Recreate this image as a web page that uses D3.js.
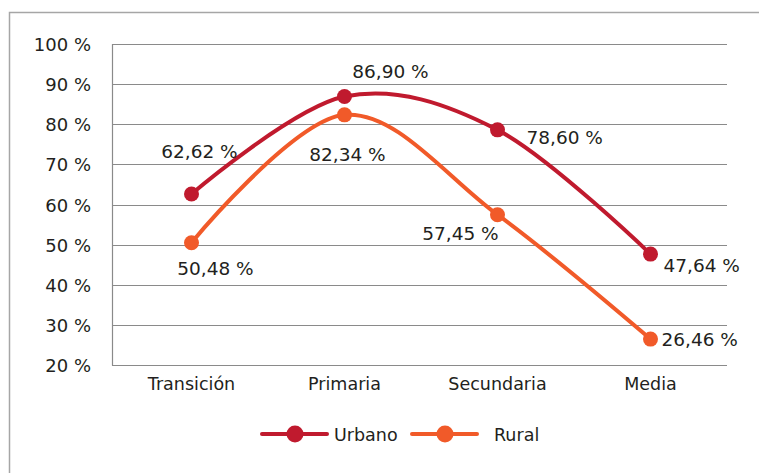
<!DOCTYPE html>
<html>
<head>
<meta charset="utf-8">
<script src="https://cdn.jsdelivr.net/npm/d3@7/dist/d3.min.js"></script>
<style>
  html, body { margin: 0; padding: 0; background: #fff; }
  svg { display: block; font-family: "DejaVu Sans", sans-serif; }
</style>
</head>
<body>
<svg id="chart" width="759" height="473"></svg>
<script>
// --- data ---
const CATEGORIES = ['Transición', 'Primaria', 'Secundaria', 'Media'];
const URBANO = [62.62, 86.90, 78.60, 47.64];
const RURAL = [50.48, 82.34, 57.45, 26.46];
const Y_TICKS = [20, 30, 40, 50, 60, 70, 80, 90, 100];
const SERIES_NAMES = ['Urbano', 'Rural'];

// label placement per point (anchor, dx, dy from marker) — styling, not data
const URBANO_LABEL_POS = [
  ['middle', 8, -36], ['middle', 46, -19], ['start', 29, 14], ['start', 13, 18]
];
const RURAL_LABEL_POS = [
  ['middle', 24, 32], ['middle', 3, 46], ['middle', -37, 25], ['start', 11, 7]
];

const COLORS = { Urbano: '#C01A2E', Rural: '#F15A29' };
const fmt = v => d3.format('.2f')(v).replace('.', ',') + ' %';

const svg = d3.select('#chart');
const W = 759, H = 473;
const plot = { left: 112, right: 727, top: 44, bottom: 365 };

// outer frame
svg.append('rect')
  .attr('x', 9.5).attr('y', 12.5)
  .attr('width', W).attr('height', H)
  .attr('fill', 'none').attr('stroke', '#a6a6a6').attr('stroke-width', 1.5);

const x = d3.scalePoint().domain(CATEGORIES).range([115, plot.right]).padding(0.5);
const y = d3.scaleLinear().domain([20, 100]).range([plot.bottom, plot.top]);

// gridlines
svg.append('g').selectAll('line')
  .data(Y_TICKS)
  .join('line')
  .attr('x1', plot.left).attr('x2', plot.right)
  .attr('y1', d => Math.round(y(d)) + 0.5).attr('y2', d => Math.round(y(d)) + 0.5)
  .attr('stroke', '#8a8a8a').attr('stroke-width', 1.2);

// left axis line
svg.append('line')
  .attr('x1', plot.left + 0.5).attr('x2', plot.left + 0.5)
  .attr('y1', plot.top).attr('y2', plot.bottom + 0.5)
  .attr('stroke', '#8a8a8a').attr('stroke-width', 1.2);

// y tick labels
svg.append('g').selectAll('text')
  .data(Y_TICKS)
  .join('text')
  .attr('x', 91).attr('y', d => y(d) + 2)
  .attr('text-anchor', 'end').attr('dominant-baseline', 'middle')
  .attr('font-size', 18).attr('fill', '#231f20')
  .text(d => d + ' %');

// category labels
svg.append('g').selectAll('text')
  .data(CATEGORIES)
  .join('text')
  .attr('x', d => x(d)).attr('y', 385)
  .attr('text-anchor', 'middle').attr('dominant-baseline', 'middle')
  .attr('font-size', 17.5).attr('fill', '#231f20')
  .text(d => d);

const line = d3.line()
  .x((d, i) => x(CATEGORIES[i]))
  .y(d => y(d))
  .curve(d3.curveCatmullRom.alpha(0));

function drawSeries(name, values){
  const g = svg.append('g');
  g.append('path')
    .attr('d', line(values))
    .attr('fill', 'none')
    .attr('stroke', COLORS[name]).attr('stroke-width', 4)
    .attr('stroke-linecap', 'round');
  g.selectAll('circle')
    .data(values)
    .join('circle')
    .attr('cx', (d, i) => x(CATEGORIES[i])).attr('cy', d => y(d))
    .attr('r', 7.5).attr('fill', COLORS[name]);
  return g;
}

function drawLabels(values, labelPos){
  svg.append('g').selectAll('text')
    .data(values)
    .join('text')
    .attr('x', (d, i) => x(CATEGORIES[i]) + labelPos[i][1])
    .attr('y', (d, i) => y(d) + labelPos[i][2])
    .attr('text-anchor', (d, i) => labelPos[i][0])
    .attr('font-size', 18.5).attr('fill', '#231f20')
    .text(d => fmt(d));
}

drawSeries('Rural', RURAL);
drawSeries('Urbano', URBANO);
drawLabels(URBANO, URBANO_LABEL_POS);
drawLabels(RURAL, RURAL_LABEL_POS);

// legend
const LEGEND_X = [262, 412];
const legend = svg.append('g');
SERIES_NAMES.forEach((name, i) => {
  const lx = LEGEND_X[i], ly = 434;
  legend.append('line')
    .attr('x1', lx).attr('x2', lx + 65).attr('y1', ly).attr('y2', ly)
    .attr('stroke', COLORS[name]).attr('stroke-width', 4).attr('stroke-linecap', 'round');
  legend.append('circle')
    .attr('cx', lx + 33).attr('cy', ly).attr('r', 8.5).attr('fill', COLORS[name]);
  legend.append('text')
    .attr('x', lx + 72 + (i === 1 ? 10 : 0)).attr('y', ly + 2)
    .attr('dominant-baseline', 'middle')
    .attr('font-size', 17.5).attr('fill', '#231f20')
    .text(name);
});
</script>
</body>
</html>
